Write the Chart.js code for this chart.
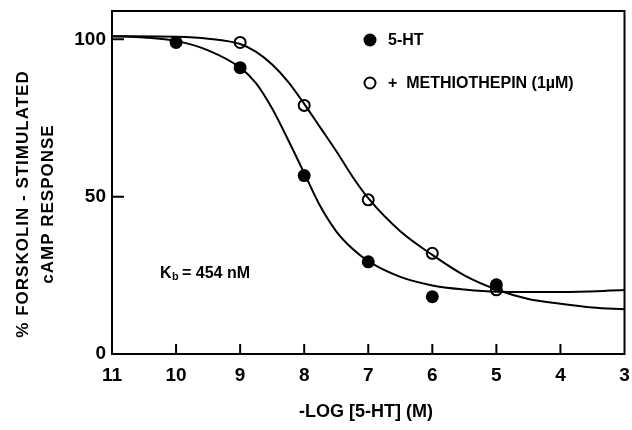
<!DOCTYPE html>
<html>
<head>
<meta charset="utf-8">
<script src="https://cdn.jsdelivr.net/npm/chart.js@4.4.0/dist/chart.umd.min.js"></script>
<style>
  body { margin: 0; background: #fff; }
</style>
</head>
<body>
<canvas id="myChart" width="632" height="430"></canvas>
<script>
// measured points, -log[5-HT] vs % response
const doseX = [10, 9, 8, 7, 6, 5];
const htValues = [99, 91, 56.7, 29.3, 18.2, 22];
const methX = [9, 8, 7, 6, 5];
const methValues = [99, 79, 49, 32, 20.4];

// fitted curves
const htCurveX = [11, 10.5, 10, 9.5, 9, 8.75, 8.5, 8.25, 8, 7.75, 7.5, 7.25, 7, 6.5, 6, 5.5, 5, 4, 3];
const htCurveY = [101, 100.6, 99.5, 96.5, 91, 86, 78, 68, 57.5, 47, 39, 33.5, 29.5, 24.5, 21.8, 20.5, 19.8, 19.7, 20.3];
const methCurveX = [11, 10, 9.5, 9, 8.75, 8.5, 8.25, 8, 7.75, 7.5, 7.25, 7, 6.5, 6, 5.5, 5, 4.5, 4, 3.5, 3];
const methCurveY = [101, 100.8, 100.2, 98.5, 96, 92, 86.5, 79.5, 72, 64.5, 56.5, 49.5, 39, 31.5, 25, 20.5, 17.5, 16, 14.8, 14.2];

const xTicks = [11, 10, 9, 8, 7, 6, 5, 4, 3];
const yTicks = [0, 50, 100];

const FONT = "'Liberation Sans', Arial, sans-serif";

function toPoints(xs, ys) {
    let pts = [];
    for (let i = 0; i < xs.length; i++) {
        pts.push({ x: xs[i], y: ys[i] });
    }
    return pts;
}

// frame, inward ticks, legend and labels
const decorations = {
    id: 'decorations',
    beforeDatasetsDraw(chart) {
        const c = chart.ctx;
        const area = chart.chartArea;
        const xs = chart.scales.x;
        const ys = chart.scales.y;
        c.save();
        c.strokeStyle = '#000';
        c.lineWidth = 2;
        c.strokeRect(area.left, area.top, area.right - area.left, area.bottom - area.top);
        c.beginPath();
        for (let i = 1; i < xTicks.length - 1; i++) {
            let px = xs.getPixelForValue(xTicks[i]);
            c.moveTo(px, area.bottom);
            c.lineTo(px, area.bottom - 10);
        }
        for (let i = 1; i < yTicks.length; i++) {
            let py = ys.getPixelForValue(yTicks[i]);
            c.moveTo(area.left, py);
            c.lineTo(area.left + 12, py);
        }
        c.stroke();
        c.restore();
    },
    afterDatasetsDraw(chart) {
        const c = chart.ctx;
        c.save();
        c.fillStyle = '#000';
        c.strokeStyle = '#000';
        c.textBaseline = 'middle';

        // legend
        c.beginPath();
        c.arc(370, 40, 6.5, 0, Math.PI * 2);
        c.fill();
        c.beginPath();
        c.lineWidth = 2;
        c.arc(370, 83, 5.5, 0, Math.PI * 2);
        c.fillStyle = '#fff';
        c.fill();
        c.stroke();
        c.fillStyle = '#000';
        c.font = 'bold 16px ' + FONT;
        c.textAlign = 'left';
        c.fillText('5-HT', 388, 41);
        c.fillText('+  METHIOTHEPIN (1\u00b5M)', 388, 84);

        // Kb
        c.fillText('K', 160, 274);
        c.font = 'bold 11px ' + FONT;
        c.fillText('b', 172, 277);
        c.font = 'bold 16px ' + FONT;
        c.fillText('= 454 nM', 182, 274);

        // axis titles
        c.textAlign = 'center';
        c.font = 'bold 18px ' + FONT;
        c.fillText('-LOG [5-HT] (M)', 366, 412);
        c.font = 'bold 17px ' + FONT;
        c.letterSpacing = '1px';
        c.translate(23, 204);
        c.rotate(-Math.PI / 2);
        c.fillText('% FORSKOLIN - STIMULATED', 0, 0);
        c.fillText('cAMP RESPONSE', 0, 25);
        c.restore();
    }
};

const ctx = document.getElementById('myChart').getContext('2d');
const myChart = new Chart(ctx, {
    type: 'scatter',
    data: {
        datasets: [
            {
                data: toPoints(htCurveX, htCurveY),
                showLine: true,
                borderColor: '#000',
                borderWidth: 2,
                pointRadius: 0,
                cubicInterpolationMode: 'monotone'
            },
            {
                data: toPoints(methCurveX, methCurveY),
                showLine: true,
                borderColor: '#000',
                borderWidth: 2,
                pointRadius: 0,
                cubicInterpolationMode: 'monotone'
            },
            {
                data: toPoints(doseX, htValues),
                backgroundColor: '#000',
                borderColor: '#000',
                pointRadius: 6.5,
                borderWidth: 0
            },
            {
                data: toPoints(methX, methValues),
                backgroundColor: '#fff',
                borderColor: '#000',
                pointRadius: 5.5,
                borderWidth: 2
            }
        ]
    },
    options: {
        responsive: false,
        animation: false,
        layout: { padding: { top: 11, right: 5 } },
        plugins: {
            legend: { display: false },
            tooltip: { enabled: false }
        },
        scales: {
            x: {
                type: 'linear',
                reverse: true,
                min: 3,
                max: 11,
                grid: { display: false, drawTicks: false },
                border: { display: false },
                afterBuildTicks: (scale) => { scale.ticks = xTicks.map(v => ({ value: v })); },
                afterFit: (scale) => {
                    scale.height = 76;
                    scale.paddingLeft = 0;
                    scale.paddingRight = 0;
                },
                ticks: {
                    autoSkip: false,
                    maxRotation: 0,
                    padding: 10,
                    color: '#000',
                    font: { family: FONT, size: 19, weight: 'bold' }
                }
            },
            y: {
                min: 0,
                max: 109,
                grid: { display: false, drawTicks: false },
                border: { display: false },
                afterBuildTicks: (scale) => { scale.ticks = yTicks.map(v => ({ value: v })); },
                afterFit: (scale) => {
                    scale.width = 112;
                    scale.paddingTop = 0;
                    scale.paddingBottom = 0;
                },
                ticks: {
                    padding: 6,
                    color: '#000',
                    font: { family: FONT, size: 19, weight: 'bold' }
                }
            }
        }
    },
    plugins: [decorations]
});
</script>
</body>
</html>
